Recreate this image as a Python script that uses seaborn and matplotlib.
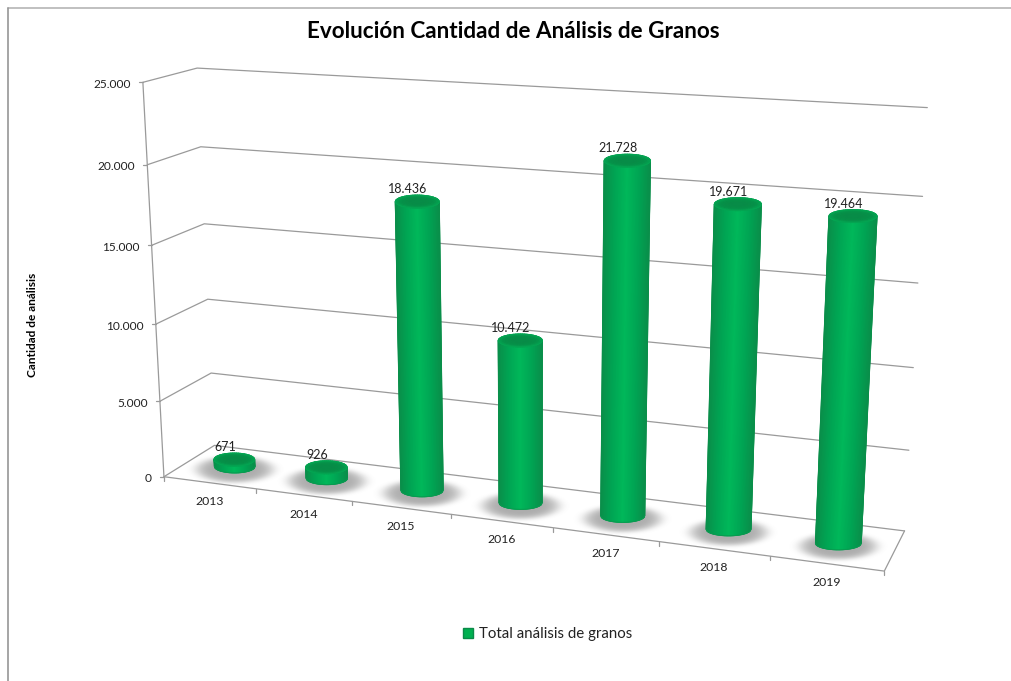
import numpy as np
import seaborn as sns
import matplotlib.pyplot as plt
from matplotlib.colors import LinearSegmentedColormap
from matplotlib.patches import Patch

years = ['2013', '2014', '2015', '2016', '2017', '2018', '2019']
totals = [671, 926, 18436, 10472, 21728, 19671, 19464]
y_ticks = [0, 5000, 10000, 15000, 20000, 25000]

title = 'Evolución Cantidad de Análisis de Granos'
y_title = 'Cantidad de análisis'
legend_label = 'Total análisis de granos'

W, H = 1011, 681
FONT = 'Lato'
GRID = '#9a9a9a'

sns.set_theme(style='white')
plt.rcParams['font.family'] = [FONT, 'DejaVu Sans']


def fmt(v):
    return f'{v:,}'.replace(',', '.')


# Fit a camera for the fake 3D box: (slot, value/5000, depth) -> pixel
box = [
    (0, 0, 0, 165, 476), (0, 1, 0, 160, 400), (0, 3, 0, 150, 243),
    (0, 4, 0, 147, 165), (0, 5, 0, 143, 83),
    (0, 0, 1, 213, 445), (0, 1, 1, 211, 373), (0, 2, 1, 208, 299),
    (0, 3, 1, 205, 224), (0, 4, 1, 201, 147), (0, 5, 1, 197, 69),
    (7, 0, 1, 904, 531), (7, 1, 1, 909, 450), (7, 2, 1, 914, 367),
    (7, 3, 1, 918, 283), (7, 4, 1, 923, 197), (7, 5, 1, 927, 107),
    (7, 0, 0, 884, 570), (1, 0, 0, 257, 490), (2, 0, 0, 352, 503),
    (3, 0, 0, 451, 515), (6, 0, 0, 769, 557),
]
A, b = [], []
for u, v, d, px, py in box:
    A.append([u, v, d, 1, 0, 0, 0, 0, -px * u, -px * v, -px * d])
    A.append([0, 0, 0, 0, u, v, d, 1, -py * u, -py * v, -py * d])
    b += [px, py]
cam = np.append(np.linalg.lstsq(np.array(A, float), np.array(b, float), rcond=None)[0], 1).reshape(3, 4)


def project(u, value, depth):
    q = cam @ np.array([u, value / 5000, depth, 1.0])
    return q[0] / q[2], q[1] / q[2]


fig = plt.figure(figsize=(W / 100, H / 100), dpi=100)

# Bars come from seaborn on a flat axes, then get redrawn as cylinders
ax = fig.add_axes([0, 0, 1, 1])
sns.barplot(x=years, y=totals, width=0.45, color='#00b050', ax=ax)
ax.set_ylim(0, y_ticks[-1])
ax.set_axis_off()

canvas = fig.add_axes([0, 0, 1, 1], facecolor='none')
canvas.set_xlim(0, W)
canvas.set_ylim(H, 0)
canvas.set_axis_off()

# Only the top and left of the chart border are in the crop
canvas.plot([7.5, W], [7.5, 7.5], color='#b5b5b5', lw=1.2, zorder=1)
canvas.plot([7.5, 7.5], [7.5, H], color='#969696', lw=1.2, zorder=1)

# Walls and floor
for t in y_ticks:
    pts = [project(0, t, 0), project(0, t, 1), project(7, t, 1)]
    canvas.plot(*zip(*pts), color=GRID, lw=0.9, zorder=1)
    x0, y0 = pts[0]
    canvas.plot([x0 - 4, x0], [y0, y0], color=GRID, lw=0.9, zorder=1)
    canvas.text(x0 - 12, y0 + 2, fmt(t), ha='right', va='center', fontsize=8.6, color='#222222')
canvas.plot(*zip(project(0, 0, 0), project(0, y_ticks[-1], 0)), color=GRID, lw=0.9, zorder=1)
canvas.plot(*zip(project(0, 0, 0), project(7, 0, 0), project(7, 0, 1)), color=GRID, lw=0.9, zorder=1)
for i in range(len(years) + 1):
    x0, y0 = project(i, 0, 0)
    canvas.plot([x0, x0], [y0, y0 + 4], color=GRID, lw=0.9, zorder=1)
for i, year in enumerate(years):
    x0, y0 = project(i + 0.5, 0, 0)
    canvas.text(x0, y0 + 19, year, ha='center', va='center', fontsize=8.8, color='#222222')

body_cmap = LinearSegmentedColormap.from_list('body', ['#0a8f4a', '#00a654', '#00b85a', '#00a654', '#0a8f4a'])
cap_cmap = LinearSegmentedColormap.from_list('cap', ['#078c47', '#06934a', '#04a552'])

DEPTH = 0.5
EDGE_B = 6.5
TOP_DROP = 3
shadow_x, shadow_y = np.meshgrid(np.arange(W) + 0.5, np.arange(H) + 0.5)
shadow_a = np.zeros((H, W))

ts = np.linspace(-1, 1, 61)
for i, (p, total) in enumerate(zip(ax.patches, totals)):
    left = p.get_x() + 0.5
    right = left + p.get_width()
    height = p.get_height()
    p.set_visible(False)

    xl0, y0 = project(left, 0, DEPTH)
    xr0, yr0 = project(right, 0, DEPTH)
    xl1, y1 = project(left, height, DEPTH)
    xr1, yr1 = project(right, height, DEPTH)
    y0, y1 = (y0 + yr0) / 2, (y1 + yr1) / 2 + TOP_DROP
    xc0, xc1 = (xl0 + xr0) / 2, (xl1 + xr1) / 2
    # the camera widens the far right bars too much
    shrink = 1 - 0.015 * i
    a0, a1 = (xr0 - xl0) / 2 * shrink, (xr1 - xl1) / 2 * shrink
    arc = np.sqrt(1 - ts ** 2) * EDGE_B

    d = np.hypot((shadow_x - xc0) / 38, (shadow_y - y0 - 3) / 13)
    shadow_a = np.maximum(shadow_a, 0.5 * np.exp(-d ** 6))

    X = np.vstack([xc1 + a1 * ts, xc0 + a0 * ts])
    Y = np.vstack([y1 + arc, y0 + arc])
    C = np.vstack([ts, ts])
    canvas.pcolormesh(X, Y, C, cmap=body_cmap, shading='gouraud', vmin=-1, vmax=1, zorder=3)
    canvas.plot(X[:, 0], Y[:, 0], color='#0a8f4a', lw=0.6, zorder=3)
    canvas.plot(X[:, -1], Y[:, -1], color='#0a8f4a', lw=0.6, zorder=3)
    canvas.plot(X[1], Y[1], color='#0a9a50', lw=0.7, zorder=3)

    th = np.linspace(0, 2 * np.pi, 61)
    rr = np.linspace(0, 1, 8)
    CX = xc1 + np.outer(rr, a1 * np.cos(th))
    CY = y1 + np.outer(rr, EDGE_B * np.sin(th))
    canvas.pcolormesh(CX, CY, np.outer(rr ** 3, np.ones_like(th)), cmap=cap_cmap, shading='gouraud',
                      vmin=0, vmax=1, zorder=4)
    canvas.plot(CX[-1], CY[-1], color='#04a552', lw=0.6, zorder=4)

    canvas.text(xc1 - 9.5, y1 - EDGE_B - 6, fmt(total), ha='center', va='center', fontsize=9,
                color='#222222', zorder=5)

shadow = np.zeros((H, W, 4))
shadow[..., :3] = 0.35
shadow[..., 3] = shadow_a
canvas.imshow(shadow, extent=(0, W, H, 0), zorder=2, aspect='auto')
canvas.set_xlim(0, W)
canvas.set_ylim(H, 0)

canvas.text(513.5, 32, title, ha='center', va='center', fontsize=16.2, fontweight='bold', color='black')
canvas.text(32, 325, y_title, rotation=90, ha='center', va='center', fontsize=8.6, fontweight='bold', color='black')

leg = canvas.legend(handles=[Patch(facecolor='#00b050', edgecolor='#0a8a48', label=legend_label)],
                    loc='center', bbox_to_anchor=(547.5, 634), bbox_transform=canvas.transData,
                    frameon=False, fontsize=10.8, handlelength=0.7, handleheight=0.7, handletextpad=0.4,
                    labelcolor='#222222')

fig.savefig('out.png', dpi=100)
plt.close(fig)
